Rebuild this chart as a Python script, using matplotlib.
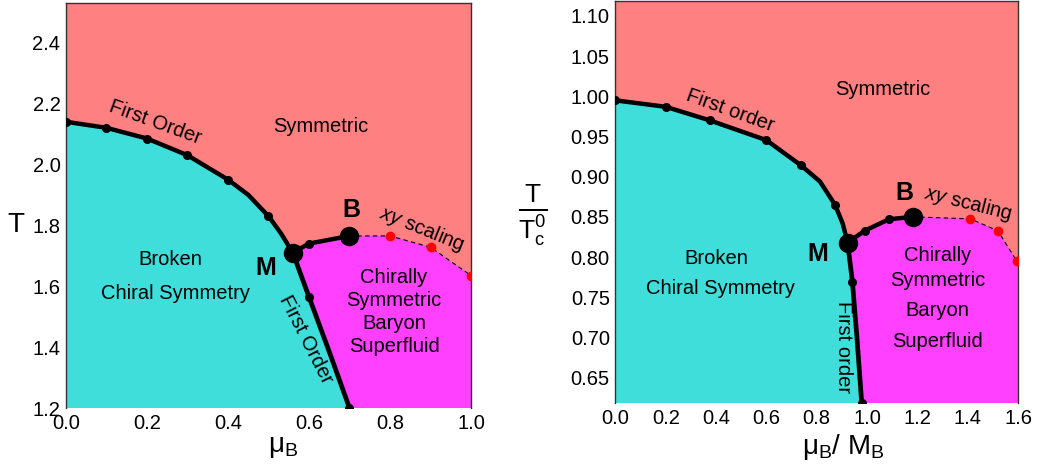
import matplotlib
matplotlib.use("Agg")
import matplotlib.pyplot as plt

plt.rcParams["font.family"] = ["Liberation Sans", "DejaVu Sans"]
plt.rcParams["mathtext.fontset"] = "custom"
plt.rcParams["mathtext.rm"] = "Liberation Sans"
plt.rcParams["mathtext.it"] = "Liberation Sans:italic"
plt.rcParams["mathtext.bf"] = "Liberation Sans:bold"

SALMON = "#FF8080"
CYAN = "#40DEDA"
MAGENTA = "#FF40FF"

# ---- panel (a): T vs mu_B ----
a_upper_x = [0.0, 0.1, 0.2, 0.3, 0.4, 0.45, 0.5, 0.53, 0.56]
a_upper_y = [2.14, 2.12, 2.085, 2.03, 1.95, 1.90, 1.83, 1.775, 1.71]
a_upper_mx = [0.0, 0.1, 0.2, 0.3, 0.4, 0.5]
a_upper_my = [2.14, 2.12, 2.085, 2.03, 1.95, 1.83]
a_lower_x = [0.56, 0.6, 0.65, 0.7]
a_lower_y = [1.71, 1.565, 1.385, 1.2]
a_mb_x = [0.56, 0.6, 0.70]
a_mb_y = [1.71, 1.74, 1.765]
a_xy_x = [0.70, 0.8, 0.9, 1.0]
a_xy_y = [1.765, 1.765, 1.728, 1.635]
a_M = (0.56, 1.71)
a_B = (0.70, 1.765)

# ---- panel (b): T/Tc0 vs mu_B/M_B ----
b_upper_x = [0.0, 0.2, 0.376, 0.6, 0.738, 0.813, 0.873, 0.903, 0.923]
b_upper_y = [0.995, 0.987, 0.970, 0.9455, 0.914, 0.894, 0.865, 0.842, 0.818]
b_upper_mx = [0.0, 0.2, 0.376, 0.6, 0.738, 0.873]
b_upper_my = [0.995, 0.987, 0.970, 0.9455, 0.914, 0.865]
b_lower_x = [0.923, 0.942, 0.96, 0.979]
b_lower_y = [0.818, 0.769, 0.70, 0.618]
b_mb_x = [0.923, 0.992, 1.087, 1.181]
b_mb_y = [0.818, 0.833, 0.847, 0.850]
b_xy_x = [1.181, 1.41, 1.52, 1.595]
b_xy_y = [0.850, 0.8476, 0.8327, 0.795]
b_M = (0.923, 0.818)
b_B = (1.181, 0.850)

FS = 14.5      # region labels and tick labels
FS_PT = 18     # M / B point labels
FS_AX = 20     # axis labels


def draw_panel(ax, xlim, ylim, upper, upper_m, lower, mb, xy, M, B):
    ux, uy = upper
    lx, ly = lower
    mbx, mby = mb
    xx, xyy = xy
    x0, x1 = xlim
    y0, y1 = ylim

    ax.set_facecolor(SALMON)
    # broken chiral symmetry region
    ax.fill([x0] + ux + lx[1:] + [lx[-1]], [y0] + uy + ly[1:] + [y0],
            color=CYAN, lw=0, zorder=1)
    # baryon superfluid region
    ax.fill(mbx + xx[1:] + [x1, x1] + lx[::-1],
            mby + xyy[1:] + [xyy[-1], y0] + ly[::-1],
            color=MAGENTA, lw=0, zorder=1)

    ax.plot(ux, uy, color="black", lw=3.2, zorder=3, solid_capstyle="round",
            solid_joinstyle="round")
    ax.plot(lx, ly, color="black", lw=3.4, zorder=3, solid_capstyle="round")
    ax.plot(mbx, mby, color="black", lw=3.2, zorder=3)
    ax.plot(upper_m[0], upper_m[1], "o", color="black", ms=5.5, zorder=4)
    ax.plot(lx[1::2], ly[1::2], "o", color="black", ms=5.5, zorder=4)
    ax.plot(mbx[1:-1], mby[1:-1], "o", color="black", ms=5.5, zorder=4)
    ax.plot(xx, xyy, "--", color="black", lw=0.8, dashes=(4, 3), zorder=3)
    ax.plot(xx[1:], xyy[1:], "o", color="red", ms=6, zorder=4)
    ax.plot([M[0], B[0]], [M[1], B[1]], "o", color="black", ms=13, zorder=5)

    ax.set_xlim(x0, x1)
    ax.set_ylim(y0, y1)
    ax.tick_params(length=0, labelsize=FS, pad=4)
    for s in ax.spines.values():
        s.set_color("#333333")
        s.set_linewidth(1.0)
    ax.spines["bottom"].set_visible(False)


fig = plt.figure(figsize=(10.37, 4.68), dpi=100)

ax1 = fig.add_axes([0.0636, 0.1282, 0.3906, 0.8654])
draw_panel(ax1, (0.0, 1.0), (1.2, 2.53),
           (a_upper_x, a_upper_y), (a_upper_mx, a_upper_my),
           (a_lower_x, a_lower_y), (a_mb_x, a_mb_y), (a_xy_x, a_xy_y),
           a_M, a_B)
ax1.set_xticks([0.0, 0.2, 0.4, 0.6, 0.8, 1.0])
ax1.set_yticks([1.2, 1.4, 1.6, 1.8, 2.0, 2.2, 2.4])
ax1.xaxis.set_major_formatter(plt.FormatStrFormatter("%.1f"))
ax1.yaxis.set_major_formatter(plt.FormatStrFormatter("%.1f"))
fig.text(0.015, 1 - 225 / 468, "T", fontsize=FS_AX, ha="center", va="center")
fig.text(283 / 1037, 1 - 447 / 468, r"$\mathrm{\mu}_{\rm B}$", fontsize=FS_AX,
         ha="center", va="center")

ax1.text(0.22, 2.137, "First Order", rotation=-20, ha="center", va="center", fontsize=FS)
ax1.text(0.63, 2.125, "Symmetric", ha="center", va="center", fontsize=FS)
ax1.text(0.258, 1.689, "Broken", ha="center", va="center", fontsize=FS)
ax1.text(0.271, 1.577, "Chiral Symmetry", ha="center", va="center", fontsize=FS)
ax1.text(0.494, 1.66, "M", ha="center", va="center", fontsize=FS_PT, fontweight="bold")
ax1.text(0.705, 1.849, "B", ha="center", va="center", fontsize=FS_PT, fontweight="bold")
ax1.text(0.878, 1.786, r"$xy$ scaling", rotation=-22, ha="center",
         va="center", fontsize=FS)
ax1.text(0.592, 1.424, "First Order", rotation=-63, ha="center", va="center", fontsize=FS)
for label, yy in zip(["Chirally", "Symmetric", "Baryon", "Superfluid"],
                     [1.629, 1.552, 1.479, 1.402]):
    ax1.text(0.81, yy, label, ha="center", va="center", fontsize=FS)

ax2 = fig.add_axes([0.5934, 0.1382, 0.3883, 0.8603])
draw_panel(ax2, (0.0, 1.6), (0.618, 1.119),
           (b_upper_x, b_upper_y), (b_upper_mx, b_upper_my),
           (b_lower_x, b_lower_y), (b_mb_x, b_mb_y), (b_xy_x, b_xy_y),
           b_M, b_B)
ax2.set_xticks([0.0, 0.2, 0.4, 0.6, 0.8, 1.0, 1.2, 1.4, 1.6])
ax2.set_yticks([0.65, 0.70, 0.75, 0.80, 0.85, 0.90, 0.95, 1.00, 1.05, 1.10])
ax2.xaxis.set_major_formatter(plt.FormatStrFormatter("%.1f"))
ax2.yaxis.set_major_formatter(plt.FormatStrFormatter("%.2f"))
fig.text(533 / 1037, 1 - 215 / 468, r"$\frac{\rm T}{\rm T_c^0}$", fontsize=27,
         ha="center", va="center")
fig.text(843 / 1037, 1 - 447 / 468, r"$\mathrm{\mu}_{\rm B}/\ \rm M_B$", fontsize=FS_AX,
         ha="center", va="center")

ax2.text(1.062, 1.0085, "Symmetric", ha="center", va="center", fontsize=FS)
ax2.text(0.456, 0.9828, "First order", rotation=-20, ha="center", va="center", fontsize=FS)
ax2.text(0.403, 0.7984, "Broken", ha="center", va="center", fontsize=FS)
ax2.text(0.416, 0.761, "Chiral Symmetry", ha="center", va="center", fontsize=FS)
ax2.text(0.804, 0.8038, "M", ha="center", va="center", fontsize=FS_PT, fontweight="bold")
ax2.text(1.147, 0.880, "B", ha="center", va="center", fontsize=FS_PT, fontweight="bold")
ax2.text(1.403, 0.866, r"$xy$ scaling", rotation=-14, ha="center",
         va="center", fontsize=FS)
ax2.text(0.906, 0.6885, "First order", rotation=-90, ha="center", va="center", fontsize=FS)
for label, yy in zip(["Chirally", "Symmetric", "Baryon", "Superfluid"],
                     [0.8025, 0.7714, 0.7333, 0.6947]):
    ax2.text(1.28, yy, label, ha="center", va="center", fontsize=FS)

fig.savefig("out.png", dpi=100)
